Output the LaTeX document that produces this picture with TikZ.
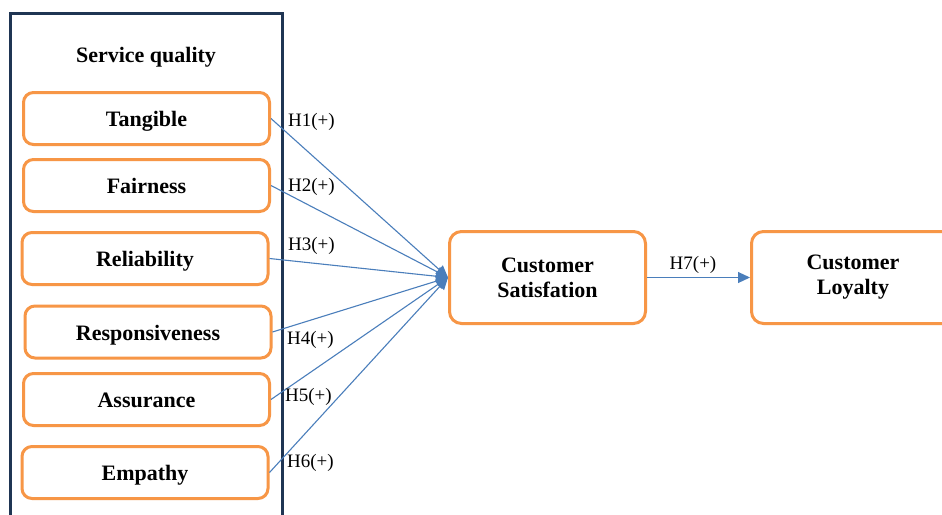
\documentclass[tikz,border=0pt]{standalone}
\usepackage{fontspec}
\setmainfont{Liberation Serif}
\usetikzlibrary{arrows.meta}
\definecolor{navy}{HTML}{1F3553}
\definecolor{orng}{HTML}{F79646}
\definecolor{lblue}{HTML}{4A7EBB}
\tikzset{
  inbox/.style={draw=orng, line width=3pt, rounded corners=10pt, fill=white,
    minimum width=246pt, minimum height=52pt, inner sep=0pt,
    text height=16pt, text depth=0pt,
    font=\fontsize{22}{26}\selectfont\bfseries},
  bigbox/.style={draw=orng, line width=3pt, rounded corners=12pt, fill=white,
    minimum width=196pt, minimum height=92pt, inner sep=0pt, align=center,
    font=\fontsize{22}{25}\selectfont\bfseries},
  hlab/.style={anchor=west, inner sep=0pt, font=\fontsize{19}{22}\selectfont},
  link/.style={draw=lblue, line width=1.1pt, -{Triangle[length=12pt,width=11pt]}}
}
\begin{document}
\begin{tikzpicture}[x=1pt,y=-1pt]
\useasboundingbox (0,0) rectangle (942,514);
\clip (0,0) rectangle (942,514);
\fill[white] (0,0) rectangle (942,514);
\node[draw=navy, line width=3pt, minimum width=272pt, minimum height=520pt, inner sep=0pt] (sq) at (146,273) {};
\node[font=\fontsize{22}{26}\selectfont\bfseries, text height=16pt, text depth=0pt, inner sep=0pt] (sqt) at (146,54) {Service quality};
\node[inbox] (tan) at (146.5,118.5) {Tangible};
\node[inbox] (fai) at (146.5,185.5) {Fairness};
\node[inbox] (rel) at (145,258.5) {Reliability};
\node[inbox] (res) at (148,332) {Responsiveness};
\node[inbox] (ass) at (146.5,399.5) {Assurance};
\node[inbox] (emp) at (145,472.5) {Empathy};
\node[bigbox] (sat) at (547.5,277.5) {Customer\\Satisfation};
\node[bigbox, minimum width=203pt] (loy) at (853,277.5) {Customer\\Loyalty};
\draw[link] (tan.east) -- (sat.west);
\draw[link] (fai.east) -- (sat.west);
\draw[link] (rel.east) -- (sat.west);
\draw[link] (res.east) -- (sat.west);
\draw[link] (ass.east) -- (sat.west);
\draw[link] (emp.east) -- (sat.west);
\draw[link] (sat.east) -- (loy.west);
\node[hlab] (h1) at (288,122) {H1(+)};
\node[hlab] (h2) at (288,187) {H2(+)};
\node[hlab] (h3) at (288,246) {H3(+)};
\node[hlab] (h4) at (287,340) {H4(+)};
\node[hlab] (h5) at (285,397) {H5(+)};
\node[hlab] (h6) at (287,463) {H6(+)};
\node[hlab, anchor=center] (h7) at (693,265) {H7(+)};
\end{tikzpicture}
\end{document}
